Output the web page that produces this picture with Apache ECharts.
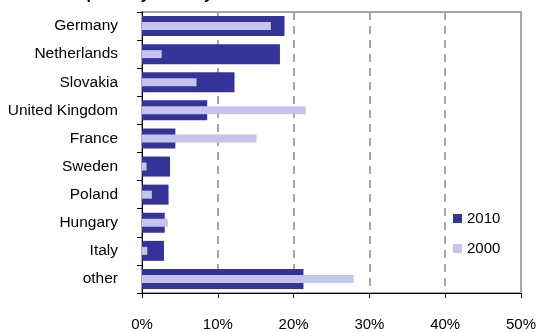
<!DOCTYPE html>
<html>
<head>
<meta charset="utf-8">
<script src="https://cdn.jsdelivr.net/npm/echarts@6/dist/echarts.min.js"></script>
<style>
  html, body { margin: 0; padding: 0; background: #fff; }
  #chart { width: 539px; height: 332px; }
</style>
</head>
<body>
<div id="chart"></div>
<script>
// categories, top to bottom
const countries = ["Germany", "Netherlands", "Slovakia", "United Kingdom", "France", "Sweden", "Poland", "Hungary", "Italy", "other"];
// shares in %
const share2010 = [18.8, 18.2, 12.2, 8.6, 4.4, 3.7, 3.5, 3.0, 2.9, 21.3];
const share2000 = [17.0, 2.6, 7.2, 21.6, 15.1, 0.6, 1.3, 3.4, 0.7, 27.9];
const xTicks = [0, 10, 20, 30, 40, 50];

const mycharts = echarts.init(document.getElementById("chart"));
const font = "Liberation Sans, Arial, sans-serif";

const options = {
  animation: false,
  title: {
    text: "Exports by country",
    left: 62,
    top: -18,
    textStyle: { fontFamily: font, fontSize: 16, fontWeight: "bold", color: "#000" }
  },
  legend: {
    orient: "vertical",
    left: 448,
    top: 206,
    itemWidth: 9,
    itemHeight: 9,
    itemGap: 15,
    icon: "rect",
    data: ["2010", "2000"],
    textStyle: { fontFamily: font, fontSize: 15, color: "#000" }
  },
  grid: {
    left: 142,
    right: 17,
    top: 12,
    bottom: 39,
    show: true,
    borderColor: "#a6a6a6",
    borderWidth: 2,
    containLabel: false
  },
  xAxis: {
    type: "value",
    min: 0,
    max: 50,
    interval: 10,
    axisLine: { show: true, lineStyle: { color: "#000", width: 1 } },
    axisTick: { show: true, length: 5, lineStyle: { color: "#000" } },
    axisLabel: {
      margin: 24,
      fontFamily: font,
      fontSize: 15,
      color: "#000",
      formatter: (v) => (xTicks.includes(v) ? v + "%" : "")
    },
    splitLine: { show: true, lineStyle: { color: "#a6a6a6", width: 2, type: [8, 6] } }
  },
  yAxis: [
    {
      type: "category",
      inverse: true,
      data: countries,
      axisLine: { show: true, lineStyle: { color: "#000", width: 1 } },
      axisTick: { show: true, length: 5, lineStyle: { color: "#000" } },
      axisLabel: { margin: 24, fontFamily: font, fontSize: 15.5, color: "#000" },
      splitLine: { show: false }
    },
    {
      // hidden twin axis so the thin 2000 bars sit centred on the 2010 bars
      type: "category",
      inverse: true,
      position: "left",
      data: countries,
      show: false
    }
  ],
  series: [
    {
      name: "2010",
      type: "bar",
      yAxisIndex: 0,
      data: share2010,
      barWidth: 20,
      itemStyle: { color: "#333399" }
    },
    {
      name: "2000",
      type: "bar",
      yAxisIndex: 1,
      data: share2000,
      barWidth: 8,
      itemStyle: { color: "#c4c4ec" }
    }
  ]
};
mycharts.setOption(options);
</script>
</body>
</html>
